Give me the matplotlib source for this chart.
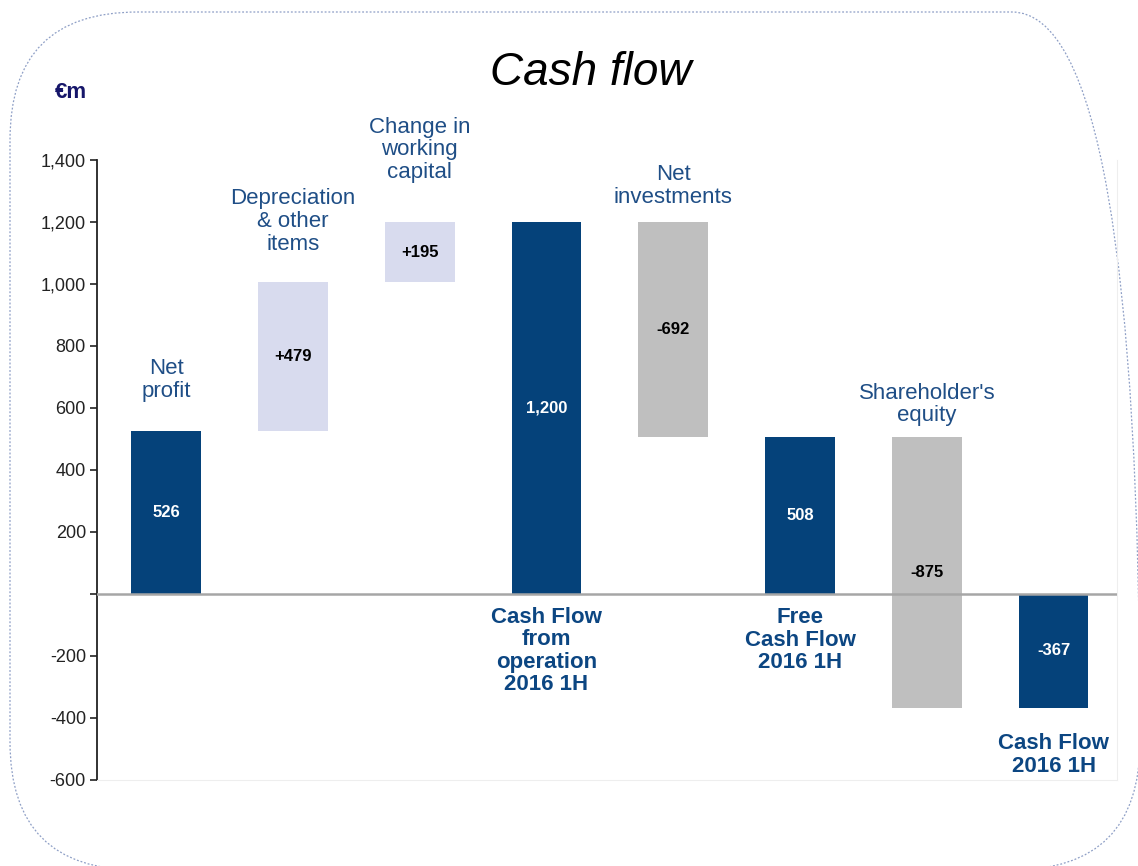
import matplotlib
matplotlib.use("Agg")
import matplotlib.pyplot as plt
from matplotlib.patches import FancyBboxPatch

# ---------------- data ----------------
categories = ["Net\nprofit", "Depreciation\n& other\nitems", "Change in\nworking\ncapital",
              "Cash Flow\nfrom\noperation\n2016 1H", "Net\ninvestments",
              "Free\nCash Flow\n2016 1H", "Shareholder's\nequity", "Cash Flow\n2016 1H"]
values = [526, 479, 195, 1200, -692, 508, -875, -367]
kinds = ["total", "delta", "delta", "total", "delta", "total", "delta", "total"]
value_labels = ["526", "+479", "+195", "1,200", "-692", "508", "-875", "-367"]
ytick_values = [-600, -400, -200, 0, 200, 400, 600, 800, 1000, 1200, 1400]
ytick_labels = ["-600", "-400", "-200", "", "200", "400", "600", "800", "1,000", "1,200", "1,400"]
title = "Cash flow"
unit = "€m"

# ---------------- style ----------------
plt.rcParams['font.family'] = ['Liberation Sans', 'DejaVu Sans']
DARK = "#05427A"
LAV = "#D8DBEE"
GRAY = "#BFBFBF"
TOPLBL = "#1F4E86"
BOTLBL = "#0C4682"

# label placement (pixel offsets of label centre from bar edge) and position (top/bottom)
label_pos = ["top", "top", "top", "bottom", "top", "bottom", "top", "bottom"]
label_off = [51, 61, 72, -57, 36, -46, 32, -47]

fig = plt.figure(figsize=(11.38, 8.66), dpi=100)

# background with rounded dotted frame (pixel coordinates, y up)
bg = fig.add_axes([0, 0, 1, 1], zorder=0)
bg.set_xlim(0, 1138)
bg.set_ylim(0, 866)
bg.axis('off')
frame = FancyBboxPatch((10, -4), 1130, 858, boxstyle="round,pad=0,rounding_size=128",
                       fill=False, edgecolor="#8E9FC6", linewidth=0.9,
                       linestyle=(0, (1.5, 1.5)))
bg.add_patch(frame)

ax = fig.add_axes([97 / 1138, 1 - 780 / 866, (1117 - 97) / 1138, (780 - 160) / 866], zorder=1)
ax.patch.set_alpha(0)

# compute waterfall
bottoms, heights, colors = [], [], []
running = 0
for v, k in zip(values, kinds):
    if k == "total":
        bottoms.append(0)
        heights.append(v)
        running = v
        colors.append(DARK)
    else:
        bottoms.append(running)
        heights.append(v)
        running += v
        colors.append(LAV if v > 0 else GRAY)

x = list(range(len(values)))
ax.bar(x, heights, bottom=bottoms, width=0.55, color=colors, zorder=2)
ax.axhline(0, color="#A6A6A6", linewidth=1.8, zorder=3)

# value labels
for i, (b, h, c, lbl) in enumerate(zip(bottoms, heights, colors, value_labels)):
    ax.text(i, b + h / 2, lbl, ha='center', va='center', fontsize=12, fontweight='bold',
            color='white' if c == DARK else 'black', zorder=4)

# category labels
for i, (b, h, cat, pos, off) in enumerate(zip(bottoms, heights, categories, label_pos, label_off)):
    top = max(b, b + h)
    bot = min(b, b + h)
    if pos == "top":
        ax.annotate(cat, xy=(i, top), xytext=(0, off), textcoords='offset pixels',
                    ha='center', va='center', fontsize=16, color=TOPLBL,
                    linespacing=1.1, annotation_clip=False)
    else:
        ax.annotate(cat, xy=(i, bot), xytext=(0, off), textcoords='offset pixels',
                    ha='center', va='center', fontsize=16, fontweight='bold', color=BOTLBL,
                    linespacing=1.1, annotation_clip=False)

ax.set_ylim(-600, 1400)
ax.set_xlim(-0.545, 7.5)
ax.set_yticks(ytick_values)
ax.set_yticklabels(ytick_labels, fontsize=13, color="#222222")
ax.set_xticks([])
ax.tick_params(axis='y', direction='out', length=5, width=1.2, color="#222222", pad=3)
ax.spines['left'].set_color("#222222")
ax.spines['left'].set_linewidth(1.3)
for s in ['top', 'right', 'bottom']:
    ax.spines[s].set_color("#EEEEEE")
    ax.spines[s].set_linewidth(0.8)
ax.spines['top'].set_visible(False)

fig.text(591 / 1138, 1 - 73 / 866, title, ha='center', va='center', fontsize=33, style='italic',
         color='black')
fig.text(71 / 1138, 1 - 93 / 866, unit, ha='center', va='center', fontsize=16, fontweight='bold',
         color="#16166A")

fig.savefig("out.png", dpi=100)
